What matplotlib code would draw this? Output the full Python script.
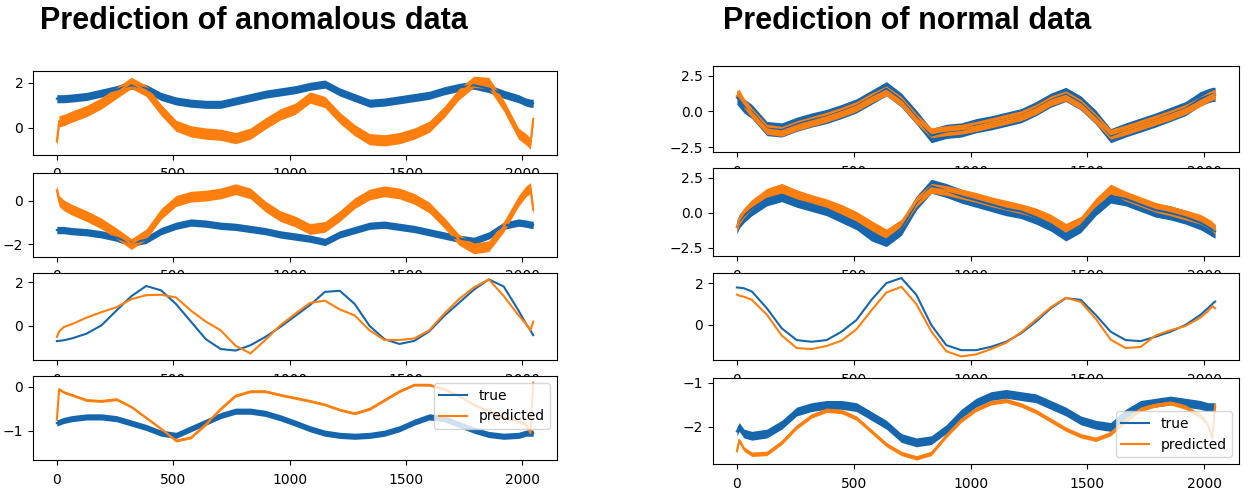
import matplotlib.pyplot as plt

# sample index of the read-off points (series are 2048 samples long)
X = [0, 10, 30, 64, 128, 192, 256, 320, 384, 448, 512, 576, 640, 704, 768, 832,
     896, 960, 1024, 1088, 1152, 1216, 1280, 1344, 1408, 1472, 1536, 1600, 1664,
     1728, 1792, 1856, 1920, 1984, 2016, 2035, 2047]

# --- anomalous data, 4 channels ---
anom_true_1 = [1.30, 1.30, 1.30, 1.33, 1.40, 1.55, 1.70, 1.90, 1.75, 1.40, 1.20, 1.10, 1.05,
               1.05, 1.20, 1.35, 1.50, 1.60, 1.70, 1.85, 1.95, 1.60, 1.35, 1.10, 1.15, 1.25,
               1.35, 1.45, 1.65, 1.80, 1.90, 1.75, 1.50, 1.30, 1.15, 1.10, 1.10]
anom_pred_1 = [-0.60, 0.30, 0.35, 0.50, 0.75, 1.10, 1.55, 2.00, 1.65, 0.80, 0.10, -0.15, -0.25,
               -0.30, -0.45, -0.25, 0.20, 0.60, 0.85, 1.35, 1.15, 0.45, -0.10, -0.50, -0.55,
               -0.45, -0.25, 0.05, 0.70, 1.50, 2.05, 2.00, 1.00, -0.25, -0.50, -0.70, 0.40]

anom_true_2 = [-1.35, -1.35, -1.35, -1.40, -1.45, -1.55, -1.70, -1.95, -1.80, -1.40, -1.15,
               -1.00, -1.05, -1.15, -1.20, -1.30, -1.40, -1.55, -1.65, -1.75, -1.90, -1.55,
               -1.35, -1.15, -1.10, -1.20, -1.30, -1.45, -1.60, -1.75, -1.85, -1.60, -1.15,
               -1.00, -1.05, -1.10, -1.10]
anom_pred_2 = [0.50, 0.00, -0.20, -0.40, -0.70, -1.05, -1.50, -2.00, -1.55, -0.60, 0.00, 0.20,
               0.25, 0.35, 0.55, 0.35, -0.25, -0.70, -0.95, -1.30, -1.20, -0.70, -0.10, 0.30,
               0.45, 0.35, 0.10, -0.30, -1.00, -1.80, -2.20, -2.10, -1.20, 0.00, 0.45, 0.60,
               -0.40]

anom_true_3 = [-0.69, -0.68, -0.65, -0.57, -0.35, 0.03, 0.70, 1.35, 1.82, 1.62, 1.00, 0.20,
               -0.60, -1.05, -1.12, -0.88, -0.50, -0.05, 0.45, 0.95, 1.55, 1.60, 1.00, 0.00,
               -0.60, -0.82, -0.68, -0.25, 0.45, 1.05, 1.65, 2.12, 1.80, 0.70, 0.10, -0.20,
               -0.42]
anom_pred_3 = [-0.50, -0.25, -0.05, 0.08, 0.38, 0.63, 0.85, 1.22, 1.40, 1.42, 1.30, 0.70, 0.20,
               -0.20, -0.90, -1.25, -0.64, 0.03, 0.55, 1.05, 1.15, 0.75, 0.48, -0.20, -0.64,
               -0.64, -0.57, -0.20, 0.55, 1.22, 1.75, 2.12, 1.37, 0.48, 0.10, -0.20, 0.20]

anom_true_4 = [-0.82, -0.80, -0.76, -0.72, -0.68, -0.68, -0.72, -0.82, -0.92, -1.05, -1.10,
               -0.95, -0.80, -0.65, -0.55, -0.55, -0.60, -0.70, -0.82, -0.95, -1.05, -1.10,
               -1.12, -1.10, -1.05, -0.95, -0.80, -0.68, -0.72, -0.85, -0.98, -1.08, -1.12,
               -1.10, -1.05, -1.05, -1.05]
anom_pred_4 = [-0.75, -0.05, -0.12, -0.18, -0.30, -0.32, -0.28, -0.45, -0.70, -0.95, -1.22,
               -1.15, -0.85, -0.50, -0.20, -0.10, -0.10, -0.18, -0.25, -0.32, -0.40, -0.52,
               -0.60, -0.50, -0.30, -0.10, 0.05, 0.05, -0.05, -0.20, -0.40, -0.55, -0.70,
               -0.78, -0.85, -1.05, 0.10]

# --- normal data, 4 channels ---
norm_true_1 = [1.00, 0.80, 0.40, 0.00, -1.20, -1.30, -0.90, -0.60, -0.35, 0.00, 0.40, 1.00,
               1.60, 0.80, -0.40, -1.70, -1.40, -1.30, -1.00, -0.80, -0.55, -0.30, 0.20, 0.80,
               1.20, 0.60, -0.40, -1.70, -1.30, -0.95, -0.60, -0.20, 0.20, 0.90, 1.10, 1.20,
               1.20]
norm_pred_1 = [1.10, 1.20, 0.60, -0.10, -1.25, -1.40, -1.00, -0.70, -0.40, -0.05, 0.35, 0.95,
               1.45, 0.70, -0.50, -1.50, -1.35, -1.25, -1.05, -0.80, -0.55, -0.30, 0.15, 0.75,
               1.10, 0.50, -0.50, -1.60, -1.30, -0.95, -0.60, -0.25, 0.15, 0.70, 1.00, 1.15,
               1.20]

norm_true_2 = [-1.00, -0.60, -0.20, 0.30, 1.00, 1.30, 0.90, 0.60, 0.30, -0.20, -0.70, -1.50,
               -1.90, -1.10, 0.70, 1.90, 1.60, 1.20, 0.90, 0.60, 0.30, 0.10, -0.30, -0.80,
               -1.50, -0.90, 0.30, 1.20, 1.00, 0.60, 0.20, 0.00, -0.30, -0.70, -1.00, -1.20,
               -1.30]
norm_pred_2 = [-1.00, -0.50, 0.00, 0.60, 1.40, 1.75, 1.30, 0.95, 0.65, 0.25, -0.25, -0.90,
               -1.50, -0.80, 0.80, 1.75, 1.60, 1.35, 1.10, 0.80, 0.55, 0.30, 0.00, -0.45,
               -1.10, -0.60, 0.70, 1.70, 1.20, 0.80, 0.40, 0.15, -0.15, -0.45, -0.75, -0.95,
               -1.20]

norm_true_3 = [1.79, 1.78, 1.75, 1.60, 0.80, -0.16, -0.72, -0.80, -0.72, -0.32, 0.24, 1.20,
               2.00, 2.24, 1.44, 0.00, -0.96, -1.20, -1.20, -1.04, -0.80, -0.40, 0.16, 0.80,
               1.28, 1.20, 0.48, -0.32, -0.72, -0.77, -0.56, -0.32, 0.00, 0.48, 0.80, 1.00,
               1.12]
norm_pred_3 = [1.45, 1.40, 1.35, 1.20, 0.50, -0.50, -1.10, -1.15, -1.00, -0.75, -0.20, 0.70,
               1.55, 1.82, 1.00, -0.30, -1.25, -1.50, -1.40, -1.15, -0.85, -0.35, 0.25, 0.85,
               1.30, 1.10, 0.30, -0.70, -1.10, -1.05, -0.50, -0.25, -0.05, 0.35, 0.65, 0.90,
               0.80]

norm_true_4 = [-2.10, -2.00, -2.15, -2.20, -2.15, -1.95, -1.65, -1.55, -1.50, -1.50, -1.55,
               -1.75, -1.95, -2.25, -2.35, -2.30, -2.05, -1.70, -1.45, -1.30, -1.25, -1.30,
               -1.35, -1.50, -1.65, -1.85, -1.95, -2.00, -1.70, -1.50, -1.45, -1.40, -1.45,
               -1.50, -1.55, -1.55, -1.55]
norm_pred_4 = [-2.55, -2.30, -2.50, -2.62, -2.60, -2.35, -2.00, -1.75, -1.62, -1.65, -1.80,
               -2.10, -2.40, -2.60, -2.70, -2.60, -2.20, -1.85, -1.60, -1.45, -1.40, -1.50,
               -1.65, -1.85, -2.05, -2.20, -2.28, -2.15, -1.85, -1.60, -1.50, -1.45, -1.55,
               -1.75, -1.95, -2.25, -1.50]

# half-width of the noise band seen around each series
anom_noise_true = [0.18, 0.17, 0.0, 0.07]
anom_noise_pred = [0.25, 0.25, 0.0, 0.03]
norm_noise_true = [0.50, 0.50, 0.0, 0.10]
norm_noise_pred = [0.35, 0.35, 0.0, 0.05]

BLUE = "#1666ad"
ORANGE = "#ff7f0e"
W, H = 1249, 491


def draw(ax, y, spread, color, label):
    if spread > 0:
        lo = [v - spread for v in y]
        hi = [v + spread for v in y]
        ax.fill_between(X, lo, hi, color=color, lw=0)
    ax.plot(X, y, color=color, lw=1.5, label=label)


def rect(x0, x1, y0, y1):
    return [x0 / W, 1 - y1 / H, (x1 - x0) / W, (y1 - y0) / H]


fig = plt.figure(figsize=(W / 100, H / 100), dpi=100)

left_rows = [(71, 155), (173, 257), (273, 360), (376, 460)]
right_rows = [(66, 152), (168, 256), (273, 360), (378, 464)]
left_ylim = [(-1.2, 2.53), (-2.6, 1.3), (-1.55, 2.41), (-1.66, 0.25)]
right_ylim = [(-2.85, 3.2), (-3.07, 3.2), (-1.67, 2.48), (-2.84, -0.89)]
left_yticks = [[0, 2], [-2, 0], [0, 2], [-1, 0]]
right_yticks = [[-2.5, 0.0, 2.5], [-2.5, 0.0, 2.5], [0, 2], [-2, -1]]

anom_true = [anom_true_1, anom_true_2, anom_true_3, anom_true_4]
anom_pred = [anom_pred_1, anom_pred_2, anom_pred_3, anom_pred_4]
norm_true = [norm_true_1, norm_true_2, norm_true_3, norm_true_4]
norm_pred = [norm_pred_1, norm_pred_2, norm_pred_3, norm_pred_4]

for i in range(4):
    ax = fig.add_axes(rect(33, 557, *left_rows[i]))
    draw(ax, anom_true[i], anom_noise_true[i], BLUE, "true")
    draw(ax, anom_pred[i], anom_noise_pred[i], ORANGE, "predicted")
    ax.set_ylim(*left_ylim[i])
    ax.set_yticks(left_yticks[i])
    ax.set_xticks([0, 500, 1000, 1500, 2000])
    ax.tick_params(labelsize=10)
    ax.tick_params(axis="x", pad=5.5)
    if i == 3:
        ax.legend(loc="upper right", fontsize=10)

for i in range(4):
    ax = fig.add_axes(rect(713, 1239, *right_rows[i]))
    draw(ax, norm_true[i], norm_noise_true[i], BLUE, "true")
    draw(ax, norm_pred[i], norm_noise_pred[i], ORANGE, "predicted")
    ax.set_ylim(*right_ylim[i])
    ax.set_yticks(right_yticks[i])
    ax.set_xticks([0, 500, 1000, 1500, 2000])
    ax.tick_params(labelsize=10)
    ax.tick_params(axis="x", pad=5.5)
    if i == 3:
        ax.legend(loc="lower right", fontsize=10)

fig.text(40 / W, 1 - 21 / H, "Prediction of anomalous data", fontsize=22,
         fontweight="bold", family="Liberation Sans", va="center", ha="left")
fig.text(723 / W, 1 - 21 / H, "Prediction of normal data", fontsize=22,
         fontweight="bold", family="Liberation Sans", va="center", ha="left")

fig.savefig("out.png", dpi=100)
